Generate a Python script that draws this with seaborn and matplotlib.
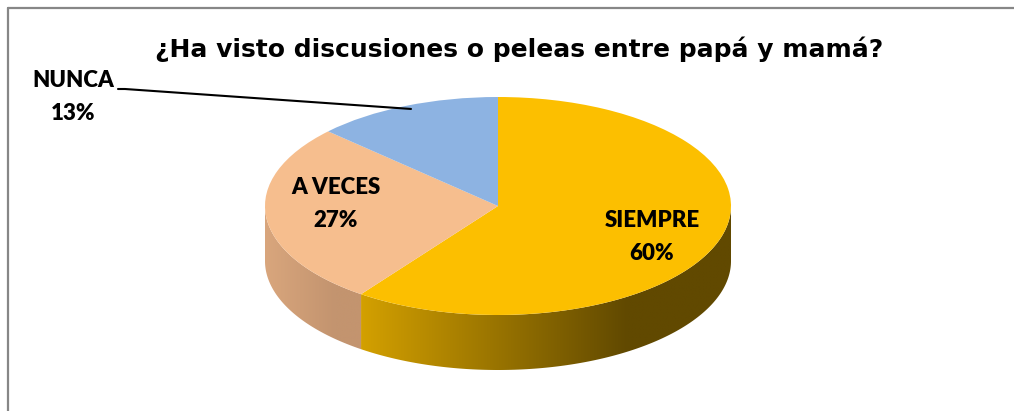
import numpy as np
import matplotlib
matplotlib.use("Agg")
import matplotlib.pyplot as plt
import seaborn as sns
from matplotlib.patches import Polygon
from matplotlib.lines import Line2D
from matplotlib.colors import LinearSegmentedColormap

# ---- data ----
categories = ["SIEMPRE", "A VECES", "NUNCA"]
percent = [60, 27, 13]
title = "¿Ha visto discusiones o peleas entre papá y mamá?"

# ---- styles ----
top_colors = ["#FCBF00", "#F6BE8E", "#8DB3E2"]
side_left = ["#D3A000", "#D9A67D", "#7E9CC4"]
side_right = ["#614900", "#C3946F", "#6A86AD"]

sns.set_theme(style="white")
plt.rcParams["font.family"] = ["Lato", "DejaVu Sans"]
plt.rcParams["text.color"] = "black"

W, H = 1014, 411
fig = plt.figure(figsize=(W / 100, H / 100), dpi=100)
ax = fig.add_axes([0, 0, 1, 1])

# pixel geometry of the pie ellipse (top face) and thickness
cx, cy, rx, ry, depth_px = 498, 206, 233, 109, 55
depth = depth_px / ry

wedges, _ = ax.pie(percent, colors=top_colors, startangle=90, counterclock=False,
                   radius=1, center=(0, 0), wedgeprops=dict(linewidth=0))
for w in wedges:
    w.set_zorder(3)

ax.set_aspect("auto")
ax.axis("off")

# side walls (front half only) with horizontal gradient
for i, w in enumerate(wedges):
    t1, t2 = w.theta1, w.theta2
    for k in (-1, 0, 1):
        lo, hi = -180 + 360 * k, 360 * k
        a, b = max(t1, lo), min(t2, hi)
        if b - a <= 0.01:
            continue
        t = np.radians(np.linspace(a, b, 200))
        xs = np.cos(t)
        ys = np.sin(t)
        verts = np.concatenate([np.column_stack([xs, ys]),
                                np.column_stack([xs[::-1], ys[::-1] - depth])])
        poly = Polygon(verts, closed=True, facecolor="none", edgecolor="none")
        ax.add_patch(poly)
        x0, x1 = xs.min(), xs.max()
        cmap = LinearSegmentedColormap.from_list(
            f"side{i}", [(0, side_left[i]), (0.72, side_right[i]), (1, side_right[i])])
        grad = np.linspace(0, 1, 256).reshape(1, -1)
        im = ax.imshow(grad, cmap=cmap, aspect="auto",
                       extent=(x0, x1, ys.min() - depth - 0.05, ys.max() + 0.05),
                       zorder=2, interpolation="bilinear")
        im.set_clip_path(poly)

ax.set_xlim((0 - cx) / rx, (W - cx) / rx)
ax.set_ylim((cy - H) / ry, cy / ry)

def px(x, y):
    return ((x - cx) / rx, (cy - y) / ry)

lab_font = dict(fontsize=16, fontweight="heavy", color="black", ha="center", va="center",
                linespacing=1.65, zorder=5)
ax.text(*px(652, 237), f"{categories[0]}\n{percent[0]}%", **lab_font)
ax.text(*px(336, 204), f"{categories[1]}\n{percent[1]}%", **lab_font)

# NUNCA label with leader line
mid = np.radians((wedges[2].theta1 + wedges[2].theta2) / 2)
ax.text(*px(73, 97), f"{categories[2]}\n{percent[2]}%", **lab_font)
lx, ly = px(118, 89)
ex, ey = 0.94 * np.cos(mid), 0.97 * np.sin(mid)
ax.add_line(Line2D([lx, lx + 0.03, ex], [ly, ly, ey], color="black", lw=1.5, zorder=5))

# title
fig.text(519.5 / W, 1 - 57 / H, title, ha="center", va="baseline", color="black",
         fontsize=18, fontweight="bold", family=["DejaVu Sans"])

# chart frame (top and left visible)
fig.add_artist(Line2D([8 / W, 1], [1 - 8 / H, 1 - 8 / H], color="#878787", lw=1.6,
                      transform=fig.transFigure))
fig.add_artist(Line2D([8 / W, 8 / W], [1 - 8 / H, 0], color="#878787", lw=1.6,
                      transform=fig.transFigure))

fig.savefig("out.png", dpi=100)
